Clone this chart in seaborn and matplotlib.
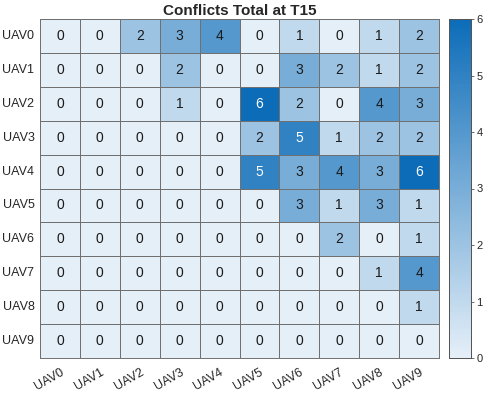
import numpy as np
import pandas as pd
import seaborn as sns
import matplotlib.pyplot as plt
from matplotlib.colors import LinearSegmentedColormap

# conflict counts, rows = UAV, cols = UAV
labels = ['UAV0', 'UAV1', 'UAV2', 'UAV3', 'UAV4', 'UAV5', 'UAV6', 'UAV7', 'UAV8', 'UAV9']
uav0 = [0, 0, 2, 3, 4, 0, 1, 0, 1, 2]
uav1 = [0, 0, 0, 2, 0, 0, 3, 2, 1, 2]
uav2 = [0, 0, 0, 1, 0, 6, 2, 0, 4, 3]
uav3 = [0, 0, 0, 0, 0, 2, 5, 1, 2, 2]
uav4 = [0, 0, 0, 0, 0, 5, 3, 4, 3, 6]
uav5 = [0, 0, 0, 0, 0, 0, 3, 1, 3, 1]
uav6 = [0, 0, 0, 0, 0, 0, 0, 2, 0, 1]
uav7 = [0, 0, 0, 0, 0, 0, 0, 0, 1, 4]
uav8 = [0, 0, 0, 0, 0, 0, 0, 0, 0, 1]
uav9 = [0, 0, 0, 0, 0, 0, 0, 0, 0, 0]

df = pd.DataFrame([uav0, uav1, uav2, uav3, uav4, uav5, uav6, uav7, uav8, uav9],
                  index=labels, columns=labels)

sns.set_style('white')
plt.rcParams['font.family'] = ['Liberation Sans', 'DejaVu Sans']

cmap = LinearSegmentedColormap.from_list('sky', ['#E5EFF8', '#0C6CB8'])

fig = plt.figure(figsize=(4.84, 3.94), dpi=100)
ax = fig.add_axes([40 / 484, 1 - 358 / 394, 399 / 484, 339 / 394])
cax = fig.add_axes([449 / 484, 1 - 358 / 394, 22 / 484, 339 / 394])

sns.heatmap(df, ax=ax, cbar_ax=cax, cmap=cmap, vmin=0, vmax=6,
            annot=True, fmt='d', annot_kws={'size': 10},
            linewidths=0.7, linecolor='#707070')

# white text on the dark cells, like the original
for t in ax.texts:
    t.set_color('white' if int(t.get_text()) >= 5 else '#1a1a1a')

ax.set_title('Conflicts Total at T15', fontsize=11, fontweight='bold', pad=3)
ax.set_xticklabels(labels, rotation=30, ha='right', rotation_mode='anchor', fontsize=9)
ax.set_yticklabels(labels, rotation=0, fontsize=9)
ax.tick_params(axis='x', length=0, pad=6)
ax.tick_params(axis='y', length=0, pad=4)
for sp in ax.spines.values():
    sp.set_visible(True)
    sp.set_color('#707070')
    sp.set_linewidth(0.7)

cax.set_yticks([0, 1, 2, 3, 4, 5, 6])
cax.tick_params(labelsize=8, length=2, width=0.6, pad=2, color='#555555')
for sp in cax.spines.values():
    sp.set_visible(True)
    sp.set_color('#555555')
    sp.set_linewidth(0.7)

fig.savefig('out.png', dpi=100)
